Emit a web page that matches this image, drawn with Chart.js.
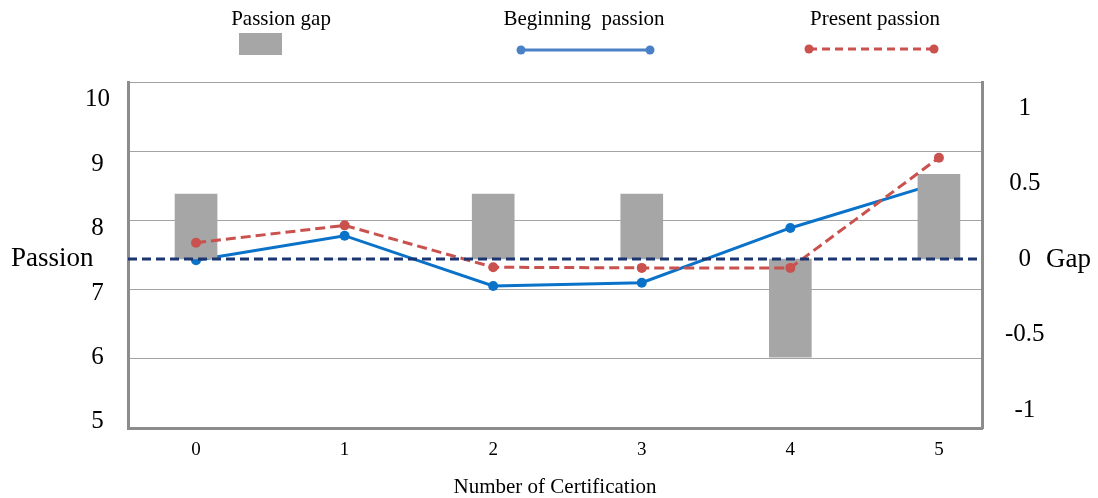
<!DOCTYPE html>
<html>
<head>
<meta charset="utf-8">
<script src="https://cdn.jsdelivr.net/npm/chart.js@4.4.1/dist/chart.umd.min.js"></script>
<style>
  html, body { margin: 0; padding: 0; background: #fff; }
  #wrap { width: 1098px; height: 498px; }
</style>
</head>
<body>
<div id="wrap"><canvas id="passionChart" width="1098" height="498"></canvas></div>
<script>
// x 軸：認證次數
const certifications = [0, 1, 2, 3, 4, 5];
// 左軸：熱情分數
const beginningPassion = [7.51, 7.89, 7.11, 7.16, 8.01, 8.71];
const presentPassion = [7.78, 8.05, 7.40, 7.39, 7.39, 9.10];
// 右軸：熱情差距
const passionGap = [0.43, 0, 0.43, 0.43, -0.65, 0.56];
// 刻度
const passionTicks = [5, 6, 7, 8, 9, 10];
const gapTicks = [-1, -0.5, 0, 0.5, 1];
const gapBaseline = 0;

const serif = '"Liberation Serif", "Times New Roman", serif';
const borderGray = '#8c8c8c';
const blue = '#0a72c8';
const red = '#c9514e';
const barGray = '#a6a6a6';

const toPoints = values => certifications.map((c, i) => ({ x: c, y: values[i] }));
const setTicks = list => axis => { axis.ticks = list.map(v => ({ value: v })); };

// 圖例、軸名稱、0 基準線
const overlay = {
    id: 'overlay',
    afterDatasetsDraw(chart) {
        const ctx = chart.ctx;
        const area = chart.chartArea;
        const y0 = chart.scales.y1.getPixelForValue(gapBaseline);
        ctx.save();
        ctx.strokeStyle = '#1b3570';
        ctx.lineWidth = 3;
        ctx.setLineDash([9, 5]);
        ctx.beginPath();
        ctx.moveTo(area.left, y0);
        ctx.lineTo(area.right, y0);
        ctx.stroke();
        ctx.restore();
    },
    afterDraw(chart) {
        const ctx = chart.ctx;
        const y0 = chart.scales.y1.getPixelForValue(gapBaseline);
        ctx.save();
        ctx.fillStyle = '#000';
        ctx.textBaseline = 'middle';

        ctx.font = '27px ' + serif;
        ctx.textAlign = 'left';
        ctx.fillText('Passion', 11, y0);
        ctx.fillText('Gap', 1046, y0 + 1);

        // 圖例
        ctx.font = '21px ' + serif;
        ctx.textAlign = 'center';
        ctx.fillText('Passion gap', 281, 19);
        ctx.fillText('Beginning  passion', 584, 19);
        ctx.fillText('Present passion', 875, 19);

        ctx.fillStyle = barGray;
        ctx.fillRect(239, 33, 43, 22);

        const legendLine = (x1, x2, y, color, dash) => {
            ctx.strokeStyle = color;
            ctx.fillStyle = color;
            ctx.lineWidth = 3;
            ctx.setLineDash(dash);
            ctx.beginPath();
            ctx.moveTo(x1, y);
            ctx.lineTo(x2, y);
            ctx.stroke();
            ctx.setLineDash([]);
            [x1, x2].forEach(x => {
                ctx.beginPath();
                ctx.arc(x, y, 4.5, 0, Math.PI * 2);
                ctx.fill();
            });
        };
        legendLine(521, 650, 50, '#4a80c6', []);
        legendLine(809, 934, 49, red, [8, 5]);
        ctx.restore();
    }
};

const ctx = document.getElementById('passionChart').getContext('2d');
const chart = new Chart(ctx, {
    type: 'bar',
    data: {
        datasets: [
            {
                type: 'line',
                label: 'Present passion',
                data: toPoints(presentPassion),
                xAxisID: 'x',
                yAxisID: 'y',
                borderColor: red,
                backgroundColor: red,
                borderWidth: 3,
                borderDash: [10, 5],
                pointRadius: 5,
                pointBorderWidth: 0,
                tension: 0,
                order: 0
            },
            {
                type: 'bar',
                label: 'Passion gap',
                data: toPoints(passionGap),
                xAxisID: 'x',
                yAxisID: 'y1',
                backgroundColor: barGray,
                borderWidth: 0,
                barThickness: 42,
                order: 1
            },
            {
                type: 'line',
                label: 'Beginning  passion',
                data: toPoints(beginningPassion),
                xAxisID: 'x',
                yAxisID: 'y',
                borderColor: blue,
                backgroundColor: blue,
                borderWidth: 3,
                pointRadius: 5,
                pointBorderWidth: 0,
                tension: 0,
                order: 2
            }
        ]
    },
    options: {
        responsive: false,
        animation: false,
        layout: { padding: { top: 82, left: 0, right: 0, bottom: 0 } },
        plugins: {
            legend: { display: false },
            tooltip: { enabled: false }
        },
        scales: {
            x: {
                type: 'linear',
                position: 'bottom',
                min: -0.458,
                max: 5.29,
                offset: false,
                grid: { display: false, offset: false },
                border: { color: borderGray, width: 3 },
                ticks: {
                    font: { family: serif, size: 19 },
                    color: '#000',
                    padding: 3,
                    callback: v => String(v)
                },
                afterBuildTicks: setTicks(certifications),
                title: {
                    display: true,
                    text: 'Number of Certification',
                    color: '#000',
                    font: { family: serif, size: 21, lineHeight: 1 },
                    padding: { top: 0, bottom: 0 }
                },
                afterFit: s => { s.height = 70; }
            },
            y: {
                type: 'linear',
                position: 'left',
                min: 4.904,
                max: 10.276,
                grid: { display: false },
                border: { color: borderGray, width: 3 },
                ticks: {
                    font: { family: serif, size: 25 },
                    color: '#000',
                    crossAlign: 'center',
                    padding: 10,
                    callback: v => String(v)
                },
                afterBuildTicks: setTicks(passionTicks),
                afterFit: s => { s.width = 128; }
            },
            yGrid: {
                type: 'linear',
                axis: 'y',
                position: 'left',
                min: 0,
                max: 5,
                ticks: { display: false, stepSize: 1 },
                grid: { color: '#a3a3a3', lineWidth: 1, drawTicks: false },
                border: { display: false },
                afterFit: s => { s.width = 0; }
            },
            y1: {
                type: 'linear',
                position: 'right',
                min: -1.119,
                max: 1.172,
                grid: { display: false },
                border: { color: borderGray, width: 3 },
                ticks: {
                    font: { family: serif, size: 25 },
                    color: '#000',
                    crossAlign: 'center',
                    padding: 15,
                    callback: v => String(v)
                },
                afterBuildTicks: setTicks(gapTicks),
                afterFit: s => { s.width = 116; }
            }
        }
    },
    plugins: [overlay]
});
</script>
</body>
</html>
